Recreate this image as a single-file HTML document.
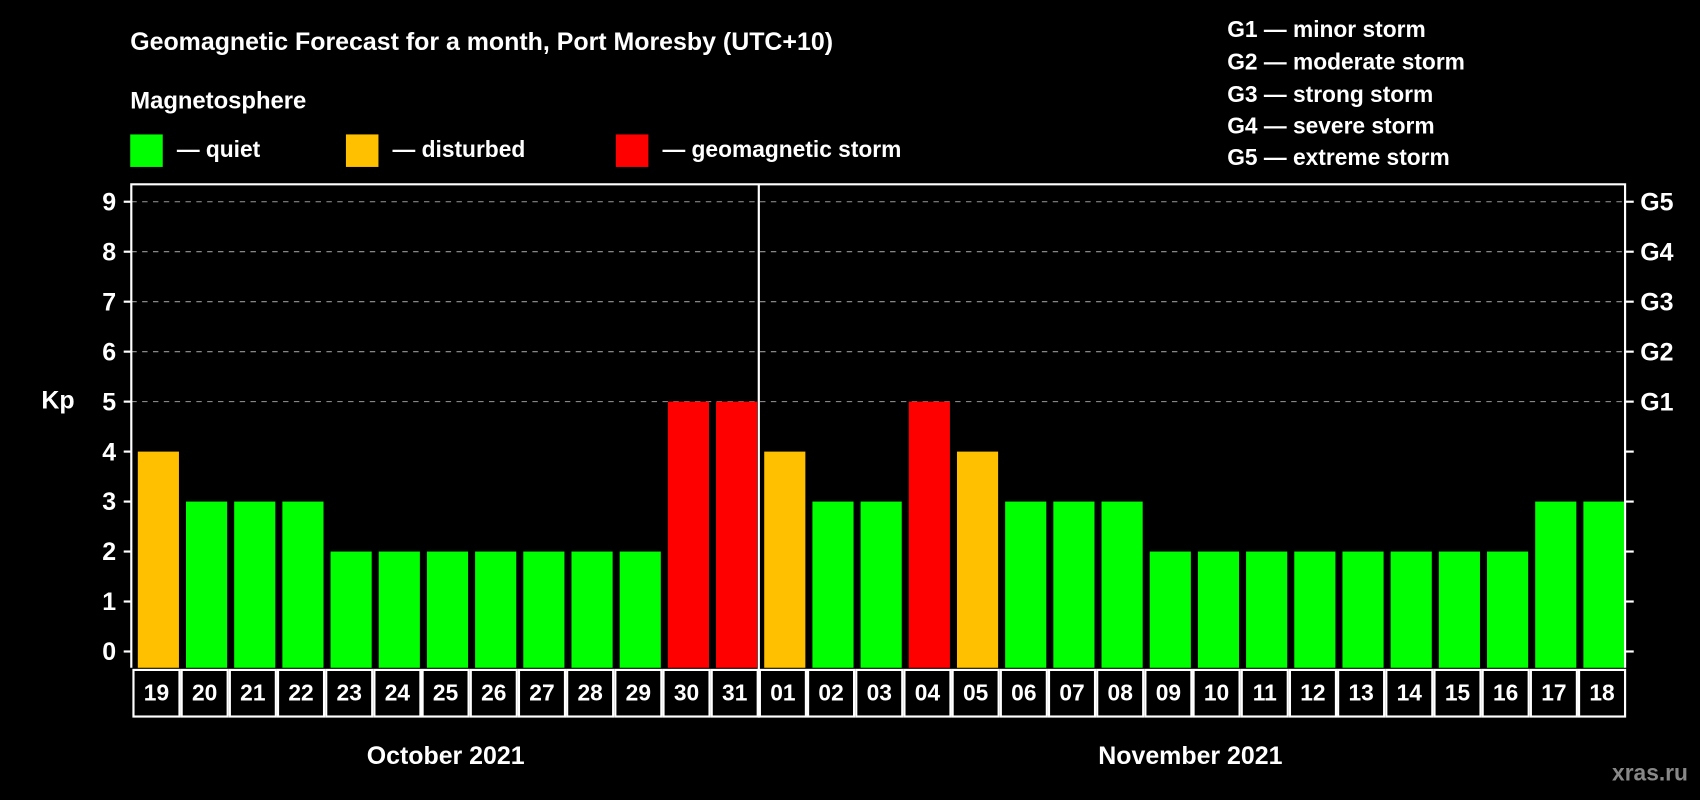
<!DOCTYPE html>
<html><head><meta charset="utf-8"><style>
html,body{margin:0;padding:0;background:#000;}
svg{display:block;font-family:"Liberation Sans",Arial,sans-serif;font-weight:bold;}
</style></head><body>
<svg id="chart" width="1700" height="800" viewBox="0 0 1568 738">
<rect width="1568" height="738" fill="#000"/>
<text x="120" y="46" fill="#fff" font-size="23">Geomagnetic Forecast for a month, Port Moresby (UTC+10)</text>
<text x="120" y="100" fill="#fff" font-size="22">Magnetosphere</text>
<g><rect x="120" y="124" width="30" height="30" fill="#00ff00"/><text x="163" y="145" fill="#fff" font-size="21">— quiet</text></g>
<g><rect x="319" y="124" width="30" height="30" fill="#ffc000"/><text x="362" y="145" fill="#fff" font-size="21">— disturbed</text></g>
<g><rect x="568" y="124" width="30" height="30" fill="#ff0000"/><text x="611" y="145" fill="#fff" font-size="21">— geomagnetic storm</text></g>
<g fill="#fff" font-size="21">
<text x="1132" y="34">G1 — minor storm</text>
<text x="1132" y="64">G2 — moderate storm</text>
<text x="1132" y="94">G3 — strong storm</text>
<text x="1132" y="123">G4 — severe storm</text>
<text x="1132" y="152">G5 — extreme storm</text>
</g>
<text x="38" y="377" fill="#fff" font-size="23">Kp</text>
<g id="plot"></g>
<text x="411" y="705" fill="#fff" font-size="23" text-anchor="middle">October 2021</text>
<text x="1098" y="705" fill="#fff" font-size="23" text-anchor="middle">November 2021</text>
<text x="1557" y="720" fill="#888" font-size="21" text-anchor="end">xras.ru</text>
</svg>
<script>
const days=["19","20","21","22","23","24","25","26","27","28","29","30","31","01","02","03","04","05","06","07","08","09","10","11","12","13","14","15","16","17","18"];
const kp=[4,3,3,3,2,2,2,2,2,2,2,5,5,4,3,3,5,4,3,3,3,2,2,2,2,2,2,2,2,3,3];
const yTicks=[0,1,2,3,4,5,6,7,8,9];
const gLabels=["G1","G2","G3","G4","G5"];
const NS="http://www.w3.org/2000/svg";
const X0=121,X1=1499,YT=170,YB=616;
const slot=(X1-X0)/days.length;
const y=v=>601-v*46.1;
const xs=i=>X0+i*slot;
const g=document.getElementById('plot');
function mk(t,a){const e=document.createElementNS(NS,t);for(const k in a)e.setAttribute(k,a[k]);g.appendChild(e);return e;}
const color=v=>v>=5?"#ff0000":(v>=4?"#ffc000":"#00ff00");
yTicks.forEach(v=>{
 if(v>=5){const l=mk('line',{x1:X0,x2:X1,y1:y(v),y2:y(v),stroke:'#999','stroke-dasharray':'5,5','stroke-width':1});
 
 }
 const t=mk('line',{x1:X0-7,x2:X0,y1:y(v),y2:y(v),stroke:'#fff','stroke-width':2});
 
 
 const t2=mk('line',{x1:X1,x2:X1+8,y1:y(v),y2:y(v),stroke:'#fff','stroke-width':2});
 
 
 const lb=mk('text',{x:X0-14,y:y(v)+8,fill:'#fff','font-size':23,'text-anchor':'end'});lb.textContent=v;
 
 
 if(v>=5){const gl=mk('text',{x:X1+14,y:y(v)+8,fill:'#fff','font-size':23});gl.textContent=gLabels[v-5];
 
 }
});
kp.forEach((v,i)=>{
 const b=mk('rect',{x:xs(i)+6,y:y(v),width:slot-6.5,height:YB-y(v),fill:color(v)});
 
 
 const c=mk('rect',{x:xs(i)+2,y:YB+2,width:slot-2,height:43,fill:'none',stroke:'#fff','stroke-width':2});
 
 
 const t=mk('text',{x:xs(i)+slot/2+1,y:YB+30,fill:'#fff','font-size':21,'text-anchor':'middle'});t.textContent=days[i];
 
 
});
const box=mk('path',{d:`M${X0},${YB} V${YT} H${X1} V${YB}`,fill:'none',stroke:'#fff','stroke-width':2});


const sepI=days.indexOf("01");
const sep=mk('line',{x1:xs(sepI)+1,x2:xs(sepI)+1,y1:YT,y2:YB+46,stroke:'#fff','stroke-width':2});


</script>
</body></html>
